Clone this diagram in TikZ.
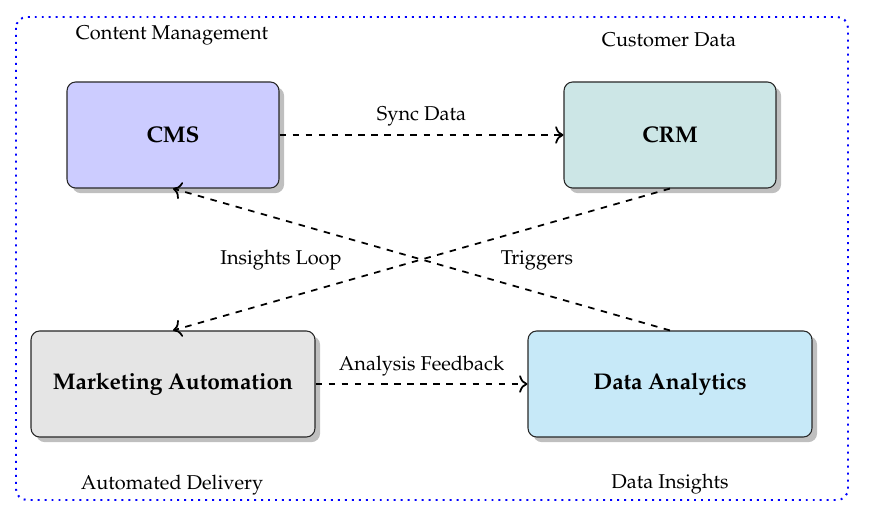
\documentclass[tikz,border=0pt]{standalone}
\usepackage[T1]{fontenc}
\usepackage{mathpazo}
\usetikzlibrary{shadows,arrows.meta}
\definecolor{cmsfill}{RGB}{204,204,255}
\definecolor{crmfill}{RGB}{204,230,230}
\definecolor{mafill}{RGB}{229,229,229}
\definecolor{dafill}{RGB}{199,233,248}
\definecolor{boxline}{RGB}{40,40,40}
\tikzset{
  sysbox/.style={draw=boxline, line width=0.5pt, rounded corners=4pt, drop shadow, font=\fontsize{10.4}{12}\selectfont\bfseries, minimum height=48.6pt, align=center},
  smallbox/.style={sysbox, minimum width=97.1pt},
  widebox/.style={sysbox, minimum width=130.1pt},
  flow/.style={-{To[length=3.8pt, width=8pt]}, thick, dashed},
  caption/.style={font=\fontsize{9.15}{11}\selectfont},
  every node/.style={font=\fontsize{9.15}{11}\selectfont},
}
\begin{document}
\begin{tikzpicture}[x=0.4582pt,y=-0.4582pt]
\useasboundingbox (0,0) rectangle (880,522);
\draw[blue, line width=0.9pt, dash pattern=on 0.9pt off 2.3pt, rounded corners=5pt] (16,17) rectangle (848,500);
\node[smallbox, fill=cmsfill] (cms) at (173,135) {CMS};
\node[smallbox, fill=crmfill] (crm) at (670,135) {CRM};
\node[widebox, fill=mafill] (ma) at (173,384) {Marketing Automation};
\node[widebox, fill=dafill] (da) at (670,384) {Data Analytics};
\node[caption] (capcms) at (172,35) {Content Management};
\node[caption] (capcrm) at (669,40) {Customer Data};
\node[caption] (capma) at (172,485) {Automated Delivery};
\node[caption] (capda) at (670,484) {Data Insights};
\draw[flow] (cms.east) -- node[midway, yshift=8.4pt] (lsync) {Sync Data} (crm.west);
\draw[flow] (crm.south) -- node[midway, xshift=52.9pt, yshift=-0.3pt] (ltrig) {Triggers} (ma.north);
\draw[flow] (da.north) -- node[midway, xshift=-64.4pt, yshift=-0.3pt] (lloop) {Insights Loop} (cms.south);
\draw[flow] (ma.east) -- node[midway, yshift=8.4pt] (lfeed) {Analysis Feedback} (da.west);
\end{tikzpicture}
\end{document}
